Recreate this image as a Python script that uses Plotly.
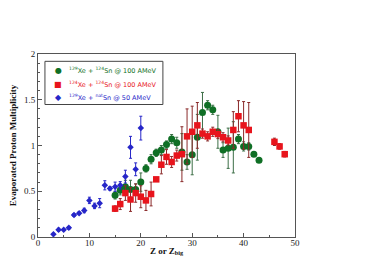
import plotly.graph_objects as go

# Blue: 129Xe + natSn @ 50 AMeV
z_blue = [3, 4, 5, 6, 7, 8, 9, 10, 11, 12, 13, 14, 15, 16, 17, 18, 19, 20]
m_blue = [0.03, 0.08, 0.08, 0.10, 0.24, 0.26, 0.29, 0.40, 0.34, 0.37, 0.565, 0.53, 0.55, 0.565, 0.66, 0.98, 0.74, 1.19]
e_blue = [0.01, 0.015, 0.01, 0.015, 0.015, 0.015, 0.025, 0.035, 0.03, 0.05, 0.05, 0.02, 0.05, 0.04, 0.07, 0.12, 0.07, 0.13]

# Green: 129Xe + 124Sn @ 100 AMeV
z_green = [15, 16, 17, 18, 19, 20, 21, 22, 23, 24, 25, 26, 27, 28, 29, 30, 31, 32, 33, 34, 35, 36, 37, 38, 39, 40, 41, 42, 43]
m_green = [0.455, 0.51, 0.55, 0.52, 0.52, 0.60, 0.75, 0.85, 0.92, 0.95, 1.01, 1.07, 1.03, 0.93, 0.82, 0.90, 1.09, 1.36, 1.44, 1.39, 1.15, 0.95, 0.97, 0.98, 1.07, 0.99, 0.99, 0.905, 0.84]
e_green = [0.04, 0.05, 0.07, 0.10, 0.06, 0.10, 0.04, 0.05, 0.04, 0.05, 0.04, 0.05, 0.06, 0.20, 0.08, 0.22, 0.25, 0.22, 0.05, 0.05, 0.18, 0.08, 0.22, 0.28, 0.05, 0.05, 0.04, 0.0, 0.0]

# Red: 124Xe + 124Sn @ 100 AMeV
z_red = [15, 16, 17, 18, 19, 20, 21, 22, 23, 24, 25, 26, 27, 28, 29, 30, 31, 32, 33, 34, 35, 36, 37, 38, 39, 40, 41, 46, 47, 48]
m_red = [0.31, 0.36, 0.48, 0.41, 0.48, 0.44, 0.40, 0.47, 0.63, 0.79, 0.875, 0.82, 0.89, 0.905, 1.10, 1.15, 1.22, 1.13, 1.10, 1.15, 1.125, 1.09, 1.055, 1.17, 1.32, 1.22, 1.17, 1.04, 0.99, 0.905]
e_red = [0.03, 0.06, 0.08, 0.13, 0.10, 0.12, 0.11, 0.13, 0.0, 0.10, 0.08, 0.06, 0.06, 0.30, 0.30, 0.28, 0.25, 0.05, 0.05, 0.05, 0.05, 0.05, 0.05, 0.20, 0.17, 0.26, 0.30, 0.04, 0.03, 0.03]

x_ticks = [0, 10, 20, 30, 40, 50]
y_ticks = [0, 0.5, 1, 1.5, 2]
y_tick_text = ["0", "0.5", "1", "1.5", "2"]

legend_names = [
    "<sup>129</sup>Xe + <sup>124</sup>Sn @ 100 AMeV",
    "<sup>124</sup>Xe + <sup>124</sup>Sn @ 100 AMeV",
    "<sup>129</sup>Xe + <sup>nat</sup>Sn @ 50 AMeV",
]
legend_glyphs = ["●", "■", "◆"]

GREEN = "#0f6f25"
RED = "#e8141c"
BLUE = "#2626c8"
colors = [GREEN, RED, BLUE]

fig = go.Figure()
fig.add_trace(go.Scatter(
    x=z_green, y=m_green, mode="markers", name=legend_names[0],
    marker=dict(symbol="circle", size=7, color=GREEN),
    error_y=dict(type="data", array=e_green, color="#3c6e46", thickness=1, width=1.5),
))
fig.add_trace(go.Scatter(
    x=z_red, y=m_red, mode="markers", name=legend_names[1],
    marker=dict(symbol="square", size=6.5, color=RED),
    error_y=dict(type="data", array=e_red, color="#8a2a2a", thickness=1, width=1.5),
))
fig.add_trace(go.Scatter(
    x=z_blue, y=m_blue, mode="markers", name=legend_names[2],
    marker=dict(symbol="diamond", size=5, color=BLUE),
    error_y=dict(type="data", array=e_blue, color=BLUE, thickness=1, width=1.5),
))

axis_common = dict(
    showline=True, linecolor="#555555", linewidth=1, mirror=True, automargin=False,
    ticks="inside", ticklen=4, tickcolor="#555555", showgrid=False, zeroline=False,
    tickfont=dict(family="Liberation Serif", size=9, color="#222222"),
)

fig.update_xaxes(range=[0, 50], tickvals=x_ticks, ticklabelstandoff=-3,
                 minor=dict(ticks="inside", ticklen=2, dtick=5, tickcolor="#555555"),
                 title=dict(text="<b>Z or Z<sub>big</sub></b>", font=dict(family="Liberation Serif", size=9, color="#111111"), standoff=0),
                 **axis_common)
fig.update_yaxes(range=[0, 2], tickvals=y_ticks, ticktext=y_tick_text,
                 minor=dict(ticks="inside", ticklen=2, dtick=0.1, tickcolor="#555555"),
                 title=dict(text="<b>Evaporated Proton Multiplicity</b>", font=dict(family="Liberation Serif", size=9, color="#111111"), standoff=6),
                 **axis_common)

# legend box drawn as layout decoration (paper coordinates)
fig.add_shape(type="rect", xref="paper", yref="paper", x0=0.027, x1=0.486, y0=0.724, y1=0.96,
              line=dict(color="#444444", width=1), fillcolor="white", layer="below")
row_y = [0.910, 0.834, 0.762]
for name, glyph, col, yy in zip(legend_names, legend_glyphs, colors, row_y):
    fig.add_annotation(xref="paper", yref="paper", x=0.078, y=yy, text=glyph, showarrow=False,
                       font=dict(family="DejaVu Sans", size=8, color=col), xanchor="center", yanchor="middle")
    fig.add_annotation(xref="paper", yref="paper", x=0.113, y=yy, text=name, showarrow=False,
                       font=dict(family="DejaVu Sans", size=6.5, color=col), xanchor="left", yanchor="middle")

fig.update_layout(
    width=376, height=266,
    margin=dict(l=30, r=89, t=46, b=37),
    paper_bgcolor="white", plot_bgcolor="white",
    showlegend=False,
)

fig.write_html("out.html")
